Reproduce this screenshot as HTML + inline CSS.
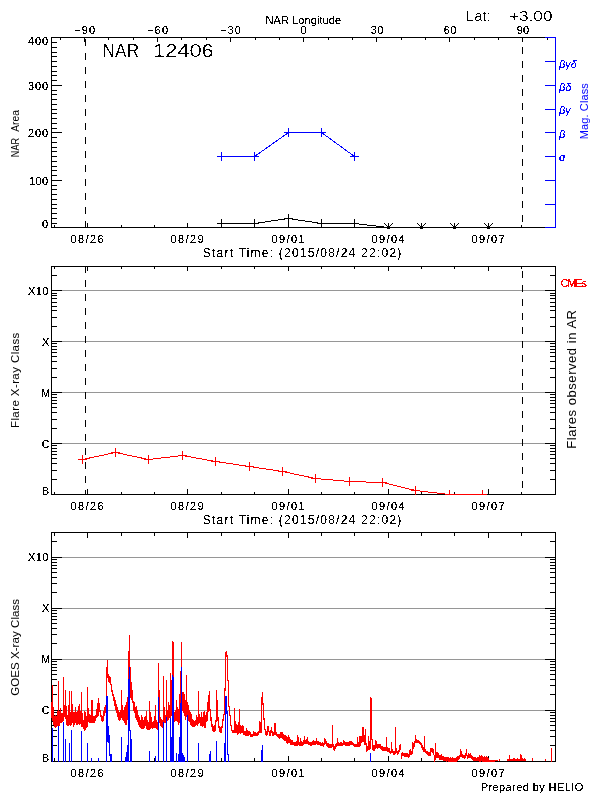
<!DOCTYPE html>
<html><head><meta charset="utf-8"><title>NAR 12406</title>
<style>html,body{margin:0;padding:0;background:#fff;width:600px;height:800px;overflow:hidden}
svg{display:block;will-change:transform} rect{shape-rendering:crispEdges} polyline,path{shape-rendering:crispEdges}
text{font-family:'Liberation Sans', 'DejaVu Sans', sans-serif;}</style></head>
<body><svg width="600" height="800" viewBox="0 0 600 800">
<defs><filter id="cr" x="-0.1" y="-0.1" width="1.2" height="1.2"><feComponentTransfer><feFuncA type="discrete" tableValues="0 0 1 1 1"/></feComponentTransfer></filter>
<filter id="cr2" x="-0.1" y="-0.1" width="1.2" height="1.2"><feComponentTransfer><feFuncA type="discrete" tableValues="0 0 0 0 0 0 1 1 1 1"/></feComponentTransfer></filter></defs>
<rect x="0" y="0" width="600" height="800" fill="#fff"/>
<rect x="51" y="37" width="505" height="1" fill="#000"/>
<rect x="51" y="227" width="505" height="1" fill="#000"/>
<rect x="51" y="37" width="1" height="191" fill="#000"/>
<rect x="555" y="37" width="1" height="191" fill="#0000ff"/>
<rect x="51" y="227" width="11" height="1" fill="#000"/>
<rect x="51" y="223" width="6" height="1" fill="#000"/>
<rect x="51" y="218" width="6" height="1" fill="#000"/>
<rect x="51" y="213" width="6" height="1" fill="#000"/>
<rect x="51" y="208" width="6" height="1" fill="#000"/>
<rect x="51" y="204" width="6" height="1" fill="#000"/>
<rect x="51" y="199" width="6" height="1" fill="#000"/>
<rect x="51" y="194" width="6" height="1" fill="#000"/>
<rect x="51" y="189" width="6" height="1" fill="#000"/>
<rect x="51" y="185" width="6" height="1" fill="#000"/>
<rect x="51" y="180" width="11" height="1" fill="#000"/>
<rect x="51" y="175" width="6" height="1" fill="#000"/>
<rect x="51" y="170" width="6" height="1" fill="#000"/>
<rect x="51" y="166" width="6" height="1" fill="#000"/>
<rect x="51" y="161" width="6" height="1" fill="#000"/>
<rect x="51" y="156" width="6" height="1" fill="#000"/>
<rect x="51" y="151" width="6" height="1" fill="#000"/>
<rect x="51" y="147" width="6" height="1" fill="#000"/>
<rect x="51" y="142" width="6" height="1" fill="#000"/>
<rect x="51" y="137" width="6" height="1" fill="#000"/>
<rect x="51" y="132" width="11" height="1" fill="#000"/>
<rect x="51" y="128" width="6" height="1" fill="#000"/>
<rect x="51" y="123" width="6" height="1" fill="#000"/>
<rect x="51" y="118" width="6" height="1" fill="#000"/>
<rect x="51" y="113" width="6" height="1" fill="#000"/>
<rect x="51" y="109" width="6" height="1" fill="#000"/>
<rect x="51" y="104" width="6" height="1" fill="#000"/>
<rect x="51" y="99" width="6" height="1" fill="#000"/>
<rect x="51" y="94" width="6" height="1" fill="#000"/>
<rect x="51" y="90" width="6" height="1" fill="#000"/>
<rect x="51" y="85" width="11" height="1" fill="#000"/>
<rect x="51" y="80" width="6" height="1" fill="#000"/>
<rect x="51" y="75" width="6" height="1" fill="#000"/>
<rect x="51" y="71" width="6" height="1" fill="#000"/>
<rect x="51" y="66" width="6" height="1" fill="#000"/>
<rect x="51" y="61" width="6" height="1" fill="#000"/>
<rect x="51" y="56" width="6" height="1" fill="#000"/>
<rect x="51" y="52" width="6" height="1" fill="#000"/>
<rect x="51" y="47" width="6" height="1" fill="#000"/>
<rect x="51" y="42" width="6" height="1" fill="#000"/>
<rect x="51" y="37" width="11" height="1" fill="#000"/>
<rect x="60" y="37" width="1" height="3" fill="#000"/>
<rect x="84" y="37" width="1" height="5" fill="#000"/>
<rect x="108" y="37" width="1" height="3" fill="#000"/>
<rect x="133" y="37" width="1" height="3" fill="#000"/>
<rect x="157" y="37" width="1" height="5" fill="#000"/>
<rect x="181" y="37" width="1" height="3" fill="#000"/>
<rect x="206" y="37" width="1" height="3" fill="#000"/>
<rect x="230" y="37" width="1" height="5" fill="#000"/>
<rect x="255" y="37" width="1" height="3" fill="#000"/>
<rect x="279" y="37" width="1" height="3" fill="#000"/>
<rect x="303" y="37" width="1" height="5" fill="#000"/>
<rect x="328" y="37" width="1" height="3" fill="#000"/>
<rect x="352" y="37" width="1" height="3" fill="#000"/>
<rect x="376" y="37" width="1" height="5" fill="#000"/>
<rect x="401" y="37" width="1" height="3" fill="#000"/>
<rect x="425" y="37" width="1" height="3" fill="#000"/>
<rect x="449" y="37" width="1" height="5" fill="#000"/>
<rect x="474" y="37" width="1" height="3" fill="#000"/>
<rect x="498" y="37" width="1" height="3" fill="#000"/>
<rect x="522" y="37" width="1" height="5" fill="#000"/>
<rect x="547" y="37" width="1" height="3" fill="#000"/>
<rect x="54" y="225" width="1" height="3" fill="#000"/>
<rect x="87" y="223" width="1" height="5" fill="#000"/>
<rect x="121" y="225" width="1" height="3" fill="#000"/>
<rect x="154" y="225" width="1" height="3" fill="#000"/>
<rect x="187" y="223" width="1" height="5" fill="#000"/>
<rect x="221" y="225" width="1" height="3" fill="#000"/>
<rect x="254" y="225" width="1" height="3" fill="#000"/>
<rect x="288" y="223" width="1" height="5" fill="#000"/>
<rect x="321" y="225" width="1" height="3" fill="#000"/>
<rect x="354" y="225" width="1" height="3" fill="#000"/>
<rect x="388" y="223" width="1" height="5" fill="#000"/>
<rect x="421" y="225" width="1" height="3" fill="#000"/>
<rect x="454" y="225" width="1" height="3" fill="#000"/>
<rect x="488" y="223" width="1" height="5" fill="#000"/>
<rect x="521" y="225" width="1" height="3" fill="#000"/>
<rect x="545" y="37" width="11" height="1" fill="#0000ff"/>
<rect x="545" y="61" width="11" height="1" fill="#0000ff"/>
<rect x="545" y="85" width="11" height="1" fill="#0000ff"/>
<rect x="545" y="109" width="11" height="1" fill="#0000ff"/>
<rect x="545" y="132" width="11" height="1" fill="#0000ff"/>
<rect x="545" y="156" width="11" height="1" fill="#0000ff"/>
<rect x="545" y="180" width="11" height="1" fill="#0000ff"/>
<rect x="545" y="204" width="11" height="1" fill="#0000ff"/>
<rect x="545" y="227" width="11" height="1" fill="#0000ff"/>
<rect x="555" y="37" width="1" height="191" fill="#0000ff"/>
<rect x="85" y="39" width="1" height="7" fill="#000"/>
<rect x="85" y="53" width="1" height="7" fill="#000"/>
<rect x="85" y="67" width="1" height="7" fill="#000"/>
<rect x="85" y="81" width="1" height="7" fill="#000"/>
<rect x="85" y="95" width="1" height="7" fill="#000"/>
<rect x="85" y="109" width="1" height="7" fill="#000"/>
<rect x="85" y="123" width="1" height="7" fill="#000"/>
<rect x="85" y="137" width="1" height="7" fill="#000"/>
<rect x="85" y="151" width="1" height="7" fill="#000"/>
<rect x="85" y="165" width="1" height="7" fill="#000"/>
<rect x="85" y="179" width="1" height="7" fill="#000"/>
<rect x="85" y="193" width="1" height="7" fill="#000"/>
<rect x="85" y="207" width="1" height="7" fill="#000"/>
<rect x="85" y="221" width="1" height="7" fill="#000"/>
<rect x="522" y="37" width="1" height="3" fill="#000"/>
<rect x="522" y="47" width="1" height="7" fill="#000"/>
<rect x="522" y="61" width="1" height="7" fill="#000"/>
<rect x="522" y="75" width="1" height="7" fill="#000"/>
<rect x="522" y="89" width="1" height="7" fill="#000"/>
<rect x="522" y="103" width="1" height="7" fill="#000"/>
<rect x="522" y="117" width="1" height="7" fill="#000"/>
<rect x="522" y="131" width="1" height="7" fill="#000"/>
<rect x="522" y="145" width="1" height="7" fill="#000"/>
<rect x="522" y="159" width="1" height="7" fill="#000"/>
<rect x="522" y="173" width="1" height="7" fill="#000"/>
<rect x="522" y="187" width="1" height="7" fill="#000"/>
<rect x="522" y="201" width="1" height="7" fill="#000"/>
<rect x="522" y="215" width="1" height="7" fill="#000"/>
<polyline points="221.5,223.5 254.5,223.5 288.5,218.5 321.5,223.5 354.5,223.5 388.5,227.5 488.5,227.5" fill="none" stroke="#000" stroke-width="1"/>
<rect x="217" y="223" width="9" height="1" fill="#000"/>
<rect x="221" y="219" width="1" height="9" fill="#000"/>
<rect x="250" y="223" width="9" height="1" fill="#000"/>
<rect x="254" y="219" width="1" height="9" fill="#000"/>
<rect x="284" y="218" width="9" height="1" fill="#000"/>
<rect x="288" y="214" width="1" height="9" fill="#000"/>
<rect x="317" y="223" width="9" height="1" fill="#000"/>
<rect x="321" y="219" width="1" height="9" fill="#000"/>
<rect x="350" y="223" width="9" height="1" fill="#000"/>
<rect x="354" y="219" width="1" height="9" fill="#000"/>
<path d="M384.5,223.5 L388.5,227.5 L392.5,223.5 M388.5,222.5 L388.5,227.5" stroke="#000" stroke-width="1" fill="none"/>
<rect x="387" y="226" width="3" height="3" fill="#000"/>
<path d="M417.5,223.5 L421.5,227.5 L425.5,223.5 M421.5,222.5 L421.5,227.5" stroke="#000" stroke-width="1" fill="none"/>
<rect x="420" y="226" width="3" height="3" fill="#000"/>
<path d="M450.5,223.5 L454.5,227.5 L458.5,223.5 M454.5,222.5 L454.5,227.5" stroke="#000" stroke-width="1" fill="none"/>
<rect x="453" y="226" width="3" height="3" fill="#000"/>
<path d="M484.5,223.5 L488.5,227.5 L492.5,223.5 M488.5,222.5 L488.5,227.5" stroke="#000" stroke-width="1" fill="none"/>
<rect x="487" y="226" width="3" height="3" fill="#000"/>
<polyline points="221.5,156.5 254.5,156.5 288.5,132.5 321.5,132.5 354.5,156.5" fill="none" stroke="#0000ff" stroke-width="1"/>
<rect x="217" y="156" width="9" height="1" fill="#0000ff"/>
<rect x="221" y="152" width="1" height="9" fill="#0000ff"/>
<rect x="250" y="156" width="9" height="1" fill="#0000ff"/>
<rect x="254" y="152" width="1" height="9" fill="#0000ff"/>
<rect x="284" y="132" width="9" height="1" fill="#0000ff"/>
<rect x="288" y="128" width="1" height="9" fill="#0000ff"/>
<rect x="317" y="132" width="9" height="1" fill="#0000ff"/>
<rect x="321" y="128" width="1" height="9" fill="#0000ff"/>
<rect x="350" y="156" width="9" height="1" fill="#0000ff"/>
<rect x="354" y="152" width="1" height="9" fill="#0000ff"/>
<rect x="52" y="290" width="503" height="1" fill="#969696"/>
<rect x="52" y="341" width="503" height="1" fill="#969696"/>
<rect x="52" y="392" width="503" height="1" fill="#969696"/>
<rect x="52" y="443" width="503" height="1" fill="#969696"/>
<rect x="51" y="266" width="505" height="1" fill="#000"/>
<rect x="51" y="494" width="505" height="1" fill="#000"/>
<rect x="51" y="266" width="1" height="229" fill="#000"/>
<rect x="555" y="266" width="1" height="229" fill="#000"/>
<rect x="51" y="494" width="11" height="1" fill="#000"/>
<rect x="545" y="494" width="11" height="1" fill="#000"/>
<rect x="51" y="479" width="6" height="1" fill="#000"/>
<rect x="550" y="479" width="6" height="1" fill="#000"/>
<rect x="51" y="470" width="6" height="1" fill="#000"/>
<rect x="550" y="470" width="6" height="1" fill="#000"/>
<rect x="51" y="463" width="6" height="1" fill="#000"/>
<rect x="550" y="463" width="6" height="1" fill="#000"/>
<rect x="51" y="458" width="6" height="1" fill="#000"/>
<rect x="550" y="458" width="6" height="1" fill="#000"/>
<rect x="51" y="454" width="6" height="1" fill="#000"/>
<rect x="550" y="454" width="6" height="1" fill="#000"/>
<rect x="51" y="451" width="6" height="1" fill="#000"/>
<rect x="550" y="451" width="6" height="1" fill="#000"/>
<rect x="51" y="448" width="6" height="1" fill="#000"/>
<rect x="550" y="448" width="6" height="1" fill="#000"/>
<rect x="51" y="445" width="6" height="1" fill="#000"/>
<rect x="550" y="445" width="6" height="1" fill="#000"/>
<rect x="51" y="443" width="11" height="1" fill="#000"/>
<rect x="545" y="443" width="11" height="1" fill="#000"/>
<rect x="51" y="428" width="6" height="1" fill="#000"/>
<rect x="550" y="428" width="6" height="1" fill="#000"/>
<rect x="51" y="419" width="6" height="1" fill="#000"/>
<rect x="550" y="419" width="6" height="1" fill="#000"/>
<rect x="51" y="412" width="6" height="1" fill="#000"/>
<rect x="550" y="412" width="6" height="1" fill="#000"/>
<rect x="51" y="407" width="6" height="1" fill="#000"/>
<rect x="550" y="407" width="6" height="1" fill="#000"/>
<rect x="51" y="403" width="6" height="1" fill="#000"/>
<rect x="550" y="403" width="6" height="1" fill="#000"/>
<rect x="51" y="400" width="6" height="1" fill="#000"/>
<rect x="550" y="400" width="6" height="1" fill="#000"/>
<rect x="51" y="397" width="6" height="1" fill="#000"/>
<rect x="550" y="397" width="6" height="1" fill="#000"/>
<rect x="51" y="394" width="6" height="1" fill="#000"/>
<rect x="550" y="394" width="6" height="1" fill="#000"/>
<rect x="51" y="392" width="11" height="1" fill="#000"/>
<rect x="545" y="392" width="11" height="1" fill="#000"/>
<rect x="51" y="377" width="6" height="1" fill="#000"/>
<rect x="550" y="377" width="6" height="1" fill="#000"/>
<rect x="51" y="368" width="6" height="1" fill="#000"/>
<rect x="550" y="368" width="6" height="1" fill="#000"/>
<rect x="51" y="361" width="6" height="1" fill="#000"/>
<rect x="550" y="361" width="6" height="1" fill="#000"/>
<rect x="51" y="356" width="6" height="1" fill="#000"/>
<rect x="550" y="356" width="6" height="1" fill="#000"/>
<rect x="51" y="352" width="6" height="1" fill="#000"/>
<rect x="550" y="352" width="6" height="1" fill="#000"/>
<rect x="51" y="349" width="6" height="1" fill="#000"/>
<rect x="550" y="349" width="6" height="1" fill="#000"/>
<rect x="51" y="346" width="6" height="1" fill="#000"/>
<rect x="550" y="346" width="6" height="1" fill="#000"/>
<rect x="51" y="343" width="6" height="1" fill="#000"/>
<rect x="550" y="343" width="6" height="1" fill="#000"/>
<rect x="51" y="341" width="11" height="1" fill="#000"/>
<rect x="545" y="341" width="11" height="1" fill="#000"/>
<rect x="51" y="326" width="6" height="1" fill="#000"/>
<rect x="550" y="326" width="6" height="1" fill="#000"/>
<rect x="51" y="317" width="6" height="1" fill="#000"/>
<rect x="550" y="317" width="6" height="1" fill="#000"/>
<rect x="51" y="310" width="6" height="1" fill="#000"/>
<rect x="550" y="310" width="6" height="1" fill="#000"/>
<rect x="51" y="306" width="6" height="1" fill="#000"/>
<rect x="550" y="306" width="6" height="1" fill="#000"/>
<rect x="51" y="302" width="6" height="1" fill="#000"/>
<rect x="550" y="302" width="6" height="1" fill="#000"/>
<rect x="51" y="298" width="6" height="1" fill="#000"/>
<rect x="550" y="298" width="6" height="1" fill="#000"/>
<rect x="51" y="295" width="6" height="1" fill="#000"/>
<rect x="550" y="295" width="6" height="1" fill="#000"/>
<rect x="51" y="293" width="6" height="1" fill="#000"/>
<rect x="550" y="293" width="6" height="1" fill="#000"/>
<rect x="51" y="290" width="11" height="1" fill="#000"/>
<rect x="545" y="290" width="11" height="1" fill="#000"/>
<rect x="51" y="275" width="6" height="1" fill="#000"/>
<rect x="550" y="275" width="6" height="1" fill="#000"/>
<rect x="51" y="266" width="6" height="1" fill="#000"/>
<rect x="550" y="266" width="6" height="1" fill="#000"/>
<rect x="54" y="492" width="1" height="3" fill="#000"/>
<rect x="54" y="266" width="1" height="3" fill="#000"/>
<rect x="87" y="489" width="1" height="6" fill="#000"/>
<rect x="87" y="266" width="1" height="5" fill="#000"/>
<rect x="121" y="492" width="1" height="3" fill="#000"/>
<rect x="121" y="266" width="1" height="3" fill="#000"/>
<rect x="154" y="492" width="1" height="3" fill="#000"/>
<rect x="154" y="266" width="1" height="3" fill="#000"/>
<rect x="187" y="489" width="1" height="6" fill="#000"/>
<rect x="187" y="266" width="1" height="5" fill="#000"/>
<rect x="221" y="492" width="1" height="3" fill="#000"/>
<rect x="221" y="266" width="1" height="3" fill="#000"/>
<rect x="254" y="492" width="1" height="3" fill="#000"/>
<rect x="254" y="266" width="1" height="3" fill="#000"/>
<rect x="288" y="489" width="1" height="6" fill="#000"/>
<rect x="288" y="266" width="1" height="5" fill="#000"/>
<rect x="321" y="492" width="1" height="3" fill="#000"/>
<rect x="321" y="266" width="1" height="3" fill="#000"/>
<rect x="354" y="492" width="1" height="3" fill="#000"/>
<rect x="354" y="266" width="1" height="3" fill="#000"/>
<rect x="388" y="489" width="1" height="6" fill="#000"/>
<rect x="388" y="266" width="1" height="5" fill="#000"/>
<rect x="421" y="492" width="1" height="3" fill="#000"/>
<rect x="421" y="266" width="1" height="3" fill="#000"/>
<rect x="454" y="492" width="1" height="3" fill="#000"/>
<rect x="454" y="266" width="1" height="3" fill="#000"/>
<rect x="488" y="489" width="1" height="6" fill="#000"/>
<rect x="488" y="266" width="1" height="5" fill="#000"/>
<rect x="521" y="492" width="1" height="3" fill="#000"/>
<rect x="521" y="266" width="1" height="3" fill="#000"/>
<rect x="85" y="266" width="1" height="7" fill="#000"/>
<rect x="85" y="280" width="1" height="7" fill="#000"/>
<rect x="85" y="294" width="1" height="7" fill="#000"/>
<rect x="85" y="308" width="1" height="7" fill="#000"/>
<rect x="85" y="322" width="1" height="7" fill="#000"/>
<rect x="85" y="336" width="1" height="7" fill="#000"/>
<rect x="85" y="350" width="1" height="7" fill="#000"/>
<rect x="85" y="364" width="1" height="7" fill="#000"/>
<rect x="85" y="378" width="1" height="7" fill="#000"/>
<rect x="85" y="392" width="1" height="7" fill="#000"/>
<rect x="85" y="406" width="1" height="7" fill="#000"/>
<rect x="85" y="420" width="1" height="7" fill="#000"/>
<rect x="85" y="434" width="1" height="7" fill="#000"/>
<rect x="85" y="448" width="1" height="7" fill="#000"/>
<rect x="85" y="462" width="1" height="7" fill="#000"/>
<rect x="85" y="476" width="1" height="7" fill="#000"/>
<rect x="85" y="490" width="1" height="5" fill="#000"/>
<rect x="522" y="271" width="1" height="7" fill="#000"/>
<rect x="522" y="285" width="1" height="7" fill="#000"/>
<rect x="522" y="299" width="1" height="7" fill="#000"/>
<rect x="522" y="313" width="1" height="7" fill="#000"/>
<rect x="522" y="327" width="1" height="7" fill="#000"/>
<rect x="522" y="341" width="1" height="7" fill="#000"/>
<rect x="522" y="355" width="1" height="7" fill="#000"/>
<rect x="522" y="369" width="1" height="7" fill="#000"/>
<rect x="522" y="383" width="1" height="7" fill="#000"/>
<rect x="522" y="397" width="1" height="7" fill="#000"/>
<rect x="522" y="411" width="1" height="7" fill="#000"/>
<rect x="522" y="425" width="1" height="7" fill="#000"/>
<rect x="522" y="439" width="1" height="7" fill="#000"/>
<rect x="522" y="453" width="1" height="7" fill="#000"/>
<rect x="522" y="467" width="1" height="7" fill="#000"/>
<rect x="522" y="481" width="1" height="7" fill="#000"/>
<polyline points="82.5,459.5 115.5,452.5 148.5,459.5 182.5,455.5 215.5,461.5 249.5,466.5 282.5,471.5 315.5,478.5 349.5,481.5 382.5,482.5 415.5,490.5 449.5,494.5 482.5,494.5" fill="none" stroke="#ff0000" stroke-width="1"/>
<rect x="78" y="459" width="9" height="1" fill="#ff0000"/>
<rect x="82" y="455" width="1" height="9" fill="#ff0000"/>
<rect x="111" y="452" width="9" height="1" fill="#ff0000"/>
<rect x="115" y="448" width="1" height="9" fill="#ff0000"/>
<rect x="144" y="459" width="9" height="1" fill="#ff0000"/>
<rect x="148" y="455" width="1" height="9" fill="#ff0000"/>
<rect x="178" y="455" width="9" height="1" fill="#ff0000"/>
<rect x="182" y="451" width="1" height="9" fill="#ff0000"/>
<rect x="211" y="461" width="9" height="1" fill="#ff0000"/>
<rect x="215" y="457" width="1" height="9" fill="#ff0000"/>
<rect x="245" y="466" width="9" height="1" fill="#ff0000"/>
<rect x="249" y="462" width="1" height="9" fill="#ff0000"/>
<rect x="278" y="471" width="9" height="1" fill="#ff0000"/>
<rect x="282" y="467" width="1" height="9" fill="#ff0000"/>
<rect x="311" y="478" width="9" height="1" fill="#ff0000"/>
<rect x="315" y="474" width="1" height="9" fill="#ff0000"/>
<rect x="345" y="481" width="9" height="1" fill="#ff0000"/>
<rect x="349" y="477" width="1" height="9" fill="#ff0000"/>
<rect x="378" y="482" width="9" height="1" fill="#ff0000"/>
<rect x="382" y="478" width="1" height="9" fill="#ff0000"/>
<rect x="411" y="490" width="9" height="1" fill="#ff0000"/>
<rect x="415" y="486" width="1" height="9" fill="#ff0000"/>
<rect x="445" y="494" width="9" height="1" fill="#ff0000"/>
<rect x="449" y="490" width="1" height="5" fill="#ff0000"/>
<rect x="478" y="494" width="9" height="1" fill="#ff0000"/>
<rect x="482" y="490" width="1" height="5" fill="#ff0000"/>
<rect x="52" y="557" width="503" height="1" fill="#969696"/>
<rect x="52" y="608" width="503" height="1" fill="#969696"/>
<rect x="52" y="659" width="503" height="1" fill="#969696"/>
<rect x="52" y="710" width="503" height="1" fill="#969696"/>
<rect x="51" y="532" width="505" height="1" fill="#000"/>
<rect x="51" y="761" width="505" height="1" fill="#000"/>
<rect x="51" y="532" width="1" height="230" fill="#000"/>
<rect x="555" y="532" width="1" height="230" fill="#000"/>
<rect x="51" y="761" width="11" height="1" fill="#000"/>
<rect x="545" y="761" width="11" height="1" fill="#000"/>
<rect x="51" y="745" width="6" height="1" fill="#000"/>
<rect x="550" y="745" width="6" height="1" fill="#000"/>
<rect x="51" y="736" width="6" height="1" fill="#000"/>
<rect x="550" y="736" width="6" height="1" fill="#000"/>
<rect x="51" y="730" width="6" height="1" fill="#000"/>
<rect x="550" y="730" width="6" height="1" fill="#000"/>
<rect x="51" y="725" width="6" height="1" fill="#000"/>
<rect x="550" y="725" width="6" height="1" fill="#000"/>
<rect x="51" y="721" width="6" height="1" fill="#000"/>
<rect x="550" y="721" width="6" height="1" fill="#000"/>
<rect x="51" y="718" width="6" height="1" fill="#000"/>
<rect x="550" y="718" width="6" height="1" fill="#000"/>
<rect x="51" y="715" width="6" height="1" fill="#000"/>
<rect x="550" y="715" width="6" height="1" fill="#000"/>
<rect x="51" y="712" width="6" height="1" fill="#000"/>
<rect x="550" y="712" width="6" height="1" fill="#000"/>
<rect x="51" y="710" width="11" height="1" fill="#000"/>
<rect x="545" y="710" width="11" height="1" fill="#000"/>
<rect x="51" y="694" width="6" height="1" fill="#000"/>
<rect x="550" y="694" width="6" height="1" fill="#000"/>
<rect x="51" y="685" width="6" height="1" fill="#000"/>
<rect x="550" y="685" width="6" height="1" fill="#000"/>
<rect x="51" y="679" width="6" height="1" fill="#000"/>
<rect x="550" y="679" width="6" height="1" fill="#000"/>
<rect x="51" y="674" width="6" height="1" fill="#000"/>
<rect x="550" y="674" width="6" height="1" fill="#000"/>
<rect x="51" y="670" width="6" height="1" fill="#000"/>
<rect x="550" y="670" width="6" height="1" fill="#000"/>
<rect x="51" y="667" width="6" height="1" fill="#000"/>
<rect x="550" y="667" width="6" height="1" fill="#000"/>
<rect x="51" y="664" width="6" height="1" fill="#000"/>
<rect x="550" y="664" width="6" height="1" fill="#000"/>
<rect x="51" y="661" width="6" height="1" fill="#000"/>
<rect x="550" y="661" width="6" height="1" fill="#000"/>
<rect x="51" y="659" width="11" height="1" fill="#000"/>
<rect x="545" y="659" width="11" height="1" fill="#000"/>
<rect x="51" y="643" width="6" height="1" fill="#000"/>
<rect x="550" y="643" width="6" height="1" fill="#000"/>
<rect x="51" y="634" width="6" height="1" fill="#000"/>
<rect x="550" y="634" width="6" height="1" fill="#000"/>
<rect x="51" y="628" width="6" height="1" fill="#000"/>
<rect x="550" y="628" width="6" height="1" fill="#000"/>
<rect x="51" y="623" width="6" height="1" fill="#000"/>
<rect x="550" y="623" width="6" height="1" fill="#000"/>
<rect x="51" y="619" width="6" height="1" fill="#000"/>
<rect x="550" y="619" width="6" height="1" fill="#000"/>
<rect x="51" y="616" width="6" height="1" fill="#000"/>
<rect x="550" y="616" width="6" height="1" fill="#000"/>
<rect x="51" y="613" width="6" height="1" fill="#000"/>
<rect x="550" y="613" width="6" height="1" fill="#000"/>
<rect x="51" y="610" width="6" height="1" fill="#000"/>
<rect x="550" y="610" width="6" height="1" fill="#000"/>
<rect x="51" y="608" width="11" height="1" fill="#000"/>
<rect x="545" y="608" width="11" height="1" fill="#000"/>
<rect x="51" y="592" width="6" height="1" fill="#000"/>
<rect x="550" y="592" width="6" height="1" fill="#000"/>
<rect x="51" y="583" width="6" height="1" fill="#000"/>
<rect x="550" y="583" width="6" height="1" fill="#000"/>
<rect x="51" y="577" width="6" height="1" fill="#000"/>
<rect x="550" y="577" width="6" height="1" fill="#000"/>
<rect x="51" y="572" width="6" height="1" fill="#000"/>
<rect x="550" y="572" width="6" height="1" fill="#000"/>
<rect x="51" y="568" width="6" height="1" fill="#000"/>
<rect x="550" y="568" width="6" height="1" fill="#000"/>
<rect x="51" y="565" width="6" height="1" fill="#000"/>
<rect x="550" y="565" width="6" height="1" fill="#000"/>
<rect x="51" y="562" width="6" height="1" fill="#000"/>
<rect x="550" y="562" width="6" height="1" fill="#000"/>
<rect x="51" y="559" width="6" height="1" fill="#000"/>
<rect x="550" y="559" width="6" height="1" fill="#000"/>
<rect x="51" y="557" width="11" height="1" fill="#000"/>
<rect x="545" y="557" width="11" height="1" fill="#000"/>
<rect x="51" y="541" width="6" height="1" fill="#000"/>
<rect x="550" y="541" width="6" height="1" fill="#000"/>
<rect x="51" y="532" width="6" height="1" fill="#000"/>
<rect x="550" y="532" width="6" height="1" fill="#000"/>
<rect x="54" y="758" width="1" height="4" fill="#000"/>
<rect x="54" y="532" width="1" height="4" fill="#000"/>
<rect x="87" y="756" width="1" height="6" fill="#000"/>
<rect x="87" y="532" width="1" height="6" fill="#000"/>
<rect x="121" y="758" width="1" height="4" fill="#000"/>
<rect x="121" y="532" width="1" height="4" fill="#000"/>
<rect x="154" y="758" width="1" height="4" fill="#000"/>
<rect x="154" y="532" width="1" height="4" fill="#000"/>
<rect x="187" y="756" width="1" height="6" fill="#000"/>
<rect x="187" y="532" width="1" height="6" fill="#000"/>
<rect x="221" y="758" width="1" height="4" fill="#000"/>
<rect x="221" y="532" width="1" height="4" fill="#000"/>
<rect x="254" y="758" width="1" height="4" fill="#000"/>
<rect x="254" y="532" width="1" height="4" fill="#000"/>
<rect x="288" y="756" width="1" height="6" fill="#000"/>
<rect x="288" y="532" width="1" height="6" fill="#000"/>
<rect x="321" y="758" width="1" height="4" fill="#000"/>
<rect x="321" y="532" width="1" height="4" fill="#000"/>
<rect x="354" y="758" width="1" height="4" fill="#000"/>
<rect x="354" y="532" width="1" height="4" fill="#000"/>
<rect x="388" y="756" width="1" height="6" fill="#000"/>
<rect x="388" y="532" width="1" height="6" fill="#000"/>
<rect x="421" y="758" width="1" height="4" fill="#000"/>
<rect x="421" y="532" width="1" height="4" fill="#000"/>
<rect x="454" y="758" width="1" height="4" fill="#000"/>
<rect x="454" y="532" width="1" height="4" fill="#000"/>
<rect x="488" y="756" width="1" height="6" fill="#000"/>
<rect x="488" y="532" width="1" height="6" fill="#000"/>
<rect x="521" y="758" width="1" height="4" fill="#000"/>
<rect x="521" y="532" width="1" height="4" fill="#000"/>
<text x="265.6" y="24" font-size="11" fill="#000" filter="url(#cr)" textLength="75.4" lengthAdjust="spacing" >NAR Longitude</text>
<text x="74.1" y="34" font-size="11" fill="#000" filter="url(#cr)" textLength="21" lengthAdjust="spacing" >−90</text>
<text x="147.0" y="34" font-size="11" fill="#000" filter="url(#cr)" textLength="21" lengthAdjust="spacing" >−60</text>
<text x="219.9" y="34" font-size="11" fill="#000" filter="url(#cr)" textLength="21" lengthAdjust="spacing" >−30</text>
<text x="300.6" y="34" font-size="11" fill="#000" filter="url(#cr)" textLength="5.4" lengthAdjust="spacing" >0</text>
<text x="370.85" y="34" font-size="11" fill="#000" filter="url(#cr)" textLength="12.5" lengthAdjust="spacing" >30</text>
<text x="443.75" y="34" font-size="11" fill="#000" filter="url(#cr)" textLength="12.5" lengthAdjust="spacing" >60</text>
<text x="516.65" y="34" font-size="11" fill="#000" filter="url(#cr)" textLength="12.5" lengthAdjust="spacing" >90</text>
<text x="465.8" y="21" font-size="15" fill="#000" filter="url(#cr2)" textLength="25" lengthAdjust="spacing" >Lat:</text>
<text x="509" y="21" font-size="15" fill="#000" filter="url(#cr2)" textLength="43.5" lengthAdjust="spacingAndGlyphs" >+3.00</text>
<text x="102.6" y="57" font-size="18" fill="#000" filter="url(#cr2)" textLength="36.6" lengthAdjust="spacingAndGlyphs" >NAR</text>
<text x="153" y="57" font-size="18" fill="#000" filter="url(#cr2)" textLength="60.7" lengthAdjust="spacingAndGlyphs" >12406</text>
<text x="28" y="45" font-size="11" fill="#000" filter="url(#cr)" textLength="20" lengthAdjust="spacing" >400</text>
<text x="28" y="90" font-size="11" fill="#000" filter="url(#cr)" textLength="20" lengthAdjust="spacing" >300</text>
<text x="28" y="137" font-size="11" fill="#000" filter="url(#cr)" textLength="20" lengthAdjust="spacing" >200</text>
<text x="29" y="185" font-size="11" fill="#000" filter="url(#cr)" textLength="19" lengthAdjust="spacing" >100</text>
<text x="42" y="228" font-size="11" fill="#000" filter="url(#cr)" textLength="6" lengthAdjust="spacing" >0</text>
<text x="19.0" y="157.2" font-size="10.5" fill="#000"  textLength="19.3" lengthAdjust="spacingAndGlyphs" transform="rotate(-90 19.0 157.2)" >NAR</text>
<text x="19.0" y="131.8" font-size="10.5" fill="#000"  textLength="21.7" lengthAdjust="spacingAndGlyphs" transform="rotate(-90 19.0 131.8)" >Area</text>
<text x="70.5" y="243" font-size="11" fill="#000" filter="url(#cr)" textLength="33" lengthAdjust="spacing" >08/26</text>
<text x="170.5" y="243" font-size="11" fill="#000" filter="url(#cr)" textLength="33" lengthAdjust="spacing" >08/29</text>
<text x="271.5" y="243" font-size="11" fill="#000" filter="url(#cr)" textLength="33" lengthAdjust="spacing" >09/01</text>
<text x="371.5" y="243" font-size="11" fill="#000" filter="url(#cr)" textLength="33" lengthAdjust="spacing" >09/04</text>
<text x="471.5" y="243" font-size="11" fill="#000" filter="url(#cr)" textLength="33" lengthAdjust="spacing" >09/07</text>
<text x="202.7" y="256.6" font-size="12" fill="#000" filter="url(#cr)" textLength="198.6" lengthAdjust="spacing" >Start Time: (2015/08/24 22:02)</text>
<text x="559" y="67.5" font-size="11" fill="#0000ff" filter="url(#cr)" font-style="italic">βγδ</text>
<text x="559" y="90.5" font-size="11" fill="#0000ff" filter="url(#cr)" font-style="italic">βδ</text>
<text x="559" y="114" font-size="11" fill="#0000ff" filter="url(#cr)" font-style="italic">βγ</text>
<text x="559" y="137.5" font-size="11" fill="#0000ff" filter="url(#cr)" font-style="italic">β</text>
<text x="559" y="160.5" font-size="11" fill="#0000ff" filter="url(#cr)" font-style="italic">α</text>
<text x="588" y="139.2" font-size="11" fill="#0000ff"  textLength="56" lengthAdjust="spacing" transform="rotate(-90 588 139.2)" >Mag. Class</text>
<text x="28" y="295" font-size="11" fill="#000" filter="url(#cr)" textLength="20.299999999999997" lengthAdjust="spacing" >X10</text>
<text x="42" y="346" font-size="11" fill="#000" filter="url(#cr)" textLength="6.299999999999997" lengthAdjust="spacing" >X</text>
<text x="41" y="397" font-size="11" fill="#000" filter="url(#cr)" textLength="7.299999999999997" lengthAdjust="spacing" >M</text>
<text x="41.8" y="448" font-size="11" fill="#000" filter="url(#cr)" textLength="6.5" lengthAdjust="spacing" >C</text>
<text x="41.8" y="495" font-size="11" fill="#000" filter="url(#cr)" textLength="6.5" lengthAdjust="spacing" >B</text>
<text x="19.0" y="428" font-size="11.5" fill="#000"  textLength="95.3" lengthAdjust="spacing" transform="rotate(-90 19.0 428)" >Flare X-ray Class</text>
<text x="560.5" y="287" font-size="11" fill="#ff0000" filter="url(#cr)" textLength="26.5" lengthAdjust="spacing" >CMEs</text>
<text x="576.3" y="448.75" font-size="13" fill="#000"  textLength="138.75" lengthAdjust="spacing" transform="rotate(-90 576.3 448.75)" >Flares observed in AR</text>
<text x="70.5" y="510" font-size="11" fill="#000" filter="url(#cr)" textLength="33" lengthAdjust="spacing" >08/26</text>
<text x="170.5" y="510" font-size="11" fill="#000" filter="url(#cr)" textLength="33" lengthAdjust="spacing" >08/29</text>
<text x="271.5" y="510" font-size="11" fill="#000" filter="url(#cr)" textLength="33" lengthAdjust="spacing" >09/01</text>
<text x="371.5" y="510" font-size="11" fill="#000" filter="url(#cr)" textLength="33" lengthAdjust="spacing" >09/04</text>
<text x="471.5" y="510" font-size="11" fill="#000" filter="url(#cr)" textLength="33" lengthAdjust="spacing" >09/07</text>
<text x="202.7" y="523.6" font-size="12" fill="#000" filter="url(#cr)" textLength="198.6" lengthAdjust="spacing" >Start Time: (2015/08/24 22:02)</text>
<text x="28" y="561.2" font-size="11" fill="#000" filter="url(#cr)" textLength="20.299999999999997" lengthAdjust="spacing" >X10</text>
<text x="42" y="612" font-size="11" fill="#000" filter="url(#cr)" textLength="6.299999999999997" lengthAdjust="spacing" >X</text>
<text x="41" y="663" font-size="11" fill="#000" filter="url(#cr)" textLength="7.299999999999997" lengthAdjust="spacing" >M</text>
<text x="41.8" y="714" font-size="11" fill="#000" filter="url(#cr)" textLength="6.5" lengthAdjust="spacing" >C</text>
<text x="41.8" y="761.5" font-size="11" fill="#000" filter="url(#cr)" textLength="6.5" lengthAdjust="spacing" >B</text>
<text x="19.0" y="695.7" font-size="11.5" fill="#000"  textLength="96.7" lengthAdjust="spacing" transform="rotate(-90 19.0 695.7)" >GOES X-ray Class</text>
<text x="70.5" y="776.5" font-size="11" fill="#000" filter="url(#cr)" textLength="33" lengthAdjust="spacing" >08/26</text>
<text x="170.5" y="776.5" font-size="11" fill="#000" filter="url(#cr)" textLength="33" lengthAdjust="spacing" >08/29</text>
<text x="271.5" y="776.5" font-size="11" fill="#000" filter="url(#cr)" textLength="33" lengthAdjust="spacing" >09/01</text>
<text x="371.5" y="776.5" font-size="11" fill="#000" filter="url(#cr)" textLength="33" lengthAdjust="spacing" >09/04</text>
<text x="471.5" y="776.5" font-size="11" fill="#000" filter="url(#cr)" textLength="33" lengthAdjust="spacing" >09/07</text>
<text x="480.7" y="790.7" font-size="11" fill="#000" filter="url(#cr)" textLength="102.5" lengthAdjust="spacing" >Prepared by HELIO</text>
<rect x="51" y="702" width="1" height="16" fill="#ff0000"/>
<rect x="52" y="685" width="1" height="36" fill="#ff0000"/>
<rect x="53" y="707" width="1" height="18" fill="#ff0000"/>
<rect x="54" y="716" width="1" height="11" fill="#ff0000"/>
<rect x="55" y="715" width="1" height="13" fill="#ff0000"/>
<rect x="56" y="716" width="1" height="11" fill="#ff0000"/>
<rect x="57" y="711" width="1" height="15" fill="#ff0000"/>
<rect x="58" y="681" width="1" height="46" fill="#ff0000"/>
<rect x="59" y="711" width="1" height="15" fill="#ff0000"/>
<rect x="60" y="708" width="1" height="15" fill="#ff0000"/>
<rect x="61" y="713" width="1" height="10" fill="#ff0000"/>
<rect x="62" y="713" width="1" height="9" fill="#ff0000"/>
<rect x="63" y="677" width="1" height="44" fill="#ff0000"/>
<rect x="64" y="705" width="1" height="12" fill="#ff0000"/>
<rect x="65" y="690" width="1" height="29" fill="#ff0000"/>
<rect x="66" y="706" width="1" height="19" fill="#ff0000"/>
<rect x="67" y="715" width="1" height="11" fill="#ff0000"/>
<rect x="68" y="705" width="1" height="21" fill="#ff0000"/>
<rect x="69" y="691" width="1" height="34" fill="#ff0000"/>
<rect x="70" y="712" width="1" height="14" fill="#ff0000"/>
<rect x="71" y="691" width="1" height="34" fill="#ff0000"/>
<rect x="72" y="704" width="1" height="19" fill="#ff0000"/>
<rect x="73" y="712" width="1" height="15" fill="#ff0000"/>
<rect x="74" y="712" width="1" height="13" fill="#ff0000"/>
<rect x="75" y="707" width="1" height="16" fill="#ff0000"/>
<rect x="76" y="712" width="1" height="13" fill="#ff0000"/>
<rect x="77" y="711" width="1" height="14" fill="#ff0000"/>
<rect x="78" y="706" width="1" height="18" fill="#ff0000"/>
<rect x="79" y="704" width="1" height="21" fill="#ff0000"/>
<rect x="80" y="711" width="1" height="13" fill="#ff0000"/>
<rect x="81" y="692" width="1" height="35" fill="#ff0000"/>
<rect x="82" y="713" width="1" height="14" fill="#ff0000"/>
<rect x="83" y="720" width="1" height="9" fill="#ff0000"/>
<rect x="84" y="711" width="1" height="20" fill="#ff0000"/>
<rect x="85" y="712" width="1" height="18" fill="#ff0000"/>
<rect x="86" y="716" width="1" height="12" fill="#ff0000"/>
<rect x="87" y="687" width="1" height="40" fill="#ff0000"/>
<rect x="88" y="708" width="1" height="14" fill="#ff0000"/>
<rect x="89" y="714" width="1" height="9" fill="#ff0000"/>
<rect x="90" y="715" width="1" height="8" fill="#ff0000"/>
<rect x="91" y="700" width="1" height="23" fill="#ff0000"/>
<rect x="92" y="700" width="1" height="23" fill="#ff0000"/>
<rect x="93" y="716" width="1" height="7" fill="#ff0000"/>
<rect x="94" y="716" width="1" height="7" fill="#ff0000"/>
<rect x="95" y="715" width="1" height="6" fill="#ff0000"/>
<rect x="96" y="709" width="1" height="9" fill="#ff0000"/>
<rect x="97" y="703" width="1" height="14" fill="#ff0000"/>
<rect x="98" y="698" width="1" height="18" fill="#ff0000"/>
<rect x="99" y="703" width="1" height="9" fill="#ff0000"/>
<rect x="100" y="710" width="1" height="7" fill="#ff0000"/>
<rect x="101" y="715" width="1" height="6" fill="#ff0000"/>
<rect x="102" y="716" width="1" height="6" fill="#ff0000"/>
<rect x="103" y="711" width="1" height="10" fill="#ff0000"/>
<rect x="104" y="707" width="1" height="9" fill="#ff0000"/>
<rect x="105" y="705" width="1" height="8" fill="#ff0000"/>
<rect x="106" y="667" width="1" height="39" fill="#ff0000"/>
<rect x="107" y="660" width="1" height="18" fill="#ff0000"/>
<rect x="108" y="674" width="1" height="8" fill="#ff0000"/>
<rect x="109" y="676" width="1" height="7" fill="#ff0000"/>
<rect x="110" y="677" width="1" height="8" fill="#ff0000"/>
<rect x="111" y="684" width="1" height="8" fill="#ff0000"/>
<rect x="112" y="690" width="1" height="6" fill="#ff0000"/>
<rect x="113" y="694" width="1" height="7" fill="#ff0000"/>
<rect x="114" y="697" width="1" height="9" fill="#ff0000"/>
<rect x="115" y="700" width="1" height="10" fill="#ff0000"/>
<rect x="116" y="704" width="1" height="9" fill="#ff0000"/>
<rect x="117" y="707" width="1" height="10" fill="#ff0000"/>
<rect x="118" y="710" width="1" height="10" fill="#ff0000"/>
<rect x="119" y="712" width="1" height="9" fill="#ff0000"/>
<rect x="120" y="710" width="1" height="10" fill="#ff0000"/>
<rect x="121" y="690" width="1" height="28" fill="#ff0000"/>
<rect x="122" y="705" width="1" height="15" fill="#ff0000"/>
<rect x="123" y="710" width="1" height="11" fill="#ff0000"/>
<rect x="124" y="707" width="1" height="16" fill="#ff0000"/>
<rect x="125" y="705" width="1" height="20" fill="#ff0000"/>
<rect x="126" y="702" width="1" height="23" fill="#ff0000"/>
<rect x="127" y="697" width="1" height="23" fill="#ff0000"/>
<rect x="128" y="651" width="1" height="50" fill="#ff0000"/>
<rect x="129" y="635" width="1" height="33" fill="#ff0000"/>
<rect x="130" y="667" width="1" height="31" fill="#ff0000"/>
<rect x="131" y="682" width="1" height="18" fill="#ff0000"/>
<rect x="132" y="690" width="1" height="13" fill="#ff0000"/>
<rect x="133" y="701" width="1" height="10" fill="#ff0000"/>
<rect x="134" y="702" width="1" height="11" fill="#ff0000"/>
<rect x="135" y="707" width="1" height="11" fill="#ff0000"/>
<rect x="136" y="706" width="1" height="14" fill="#ff0000"/>
<rect x="137" y="710" width="1" height="12" fill="#ff0000"/>
<rect x="138" y="715" width="1" height="10" fill="#ff0000"/>
<rect x="139" y="717" width="1" height="10" fill="#ff0000"/>
<rect x="140" y="720" width="1" height="8" fill="#ff0000"/>
<rect x="141" y="715" width="1" height="14" fill="#ff0000"/>
<rect x="142" y="717" width="1" height="12" fill="#ff0000"/>
<rect x="143" y="720" width="1" height="9" fill="#ff0000"/>
<rect x="144" y="717" width="1" height="11" fill="#ff0000"/>
<rect x="145" y="716" width="1" height="10" fill="#ff0000"/>
<rect x="146" y="711" width="1" height="18" fill="#ff0000"/>
<rect x="147" y="720" width="1" height="10" fill="#ff0000"/>
<rect x="148" y="722" width="1" height="8" fill="#ff0000"/>
<rect x="149" y="701" width="1" height="29" fill="#ff0000"/>
<rect x="150" y="712" width="1" height="17" fill="#ff0000"/>
<rect x="151" y="717" width="1" height="11" fill="#ff0000"/>
<rect x="152" y="722" width="1" height="7" fill="#ff0000"/>
<rect x="153" y="721" width="1" height="7" fill="#ff0000"/>
<rect x="154" y="716" width="1" height="12" fill="#ff0000"/>
<rect x="155" y="705" width="1" height="23" fill="#ff0000"/>
<rect x="156" y="720" width="1" height="9" fill="#ff0000"/>
<rect x="157" y="722" width="1" height="8" fill="#ff0000"/>
<rect x="158" y="663" width="1" height="38" fill="#ff0000"/>
<rect x="159" y="690" width="1" height="33" fill="#ff0000"/>
<rect x="160" y="717" width="1" height="9" fill="#ff0000"/>
<rect x="161" y="719" width="1" height="8" fill="#ff0000"/>
<rect x="162" y="720" width="1" height="8" fill="#ff0000"/>
<rect x="163" y="676" width="1" height="47" fill="#ff0000"/>
<rect x="164" y="707" width="1" height="16" fill="#ff0000"/>
<rect x="165" y="715" width="1" height="8" fill="#ff0000"/>
<rect x="166" y="680" width="1" height="42" fill="#ff0000"/>
<rect x="167" y="710" width="1" height="11" fill="#ff0000"/>
<rect x="168" y="702" width="1" height="18" fill="#ff0000"/>
<rect x="169" y="705" width="1" height="13" fill="#ff0000"/>
<rect x="170" y="673" width="1" height="45" fill="#ff0000"/>
<rect x="171" y="680" width="1" height="36" fill="#ff0000"/>
<rect x="172" y="641" width="1" height="36" fill="#ff0000"/>
<rect x="173" y="642" width="1" height="36" fill="#ff0000"/>
<rect x="174" y="712" width="1" height="10" fill="#ff0000"/>
<rect x="175" y="710" width="1" height="11" fill="#ff0000"/>
<rect x="176" y="700" width="1" height="21" fill="#ff0000"/>
<rect x="177" y="707" width="1" height="15" fill="#ff0000"/>
<rect x="178" y="709" width="1" height="16" fill="#ff0000"/>
<rect x="179" y="694" width="1" height="29" fill="#ff0000"/>
<rect x="180" y="671" width="1" height="35" fill="#ff0000"/>
<rect x="181" y="642" width="1" height="27" fill="#ff0000"/>
<rect x="182" y="692" width="1" height="19" fill="#ff0000"/>
<rect x="183" y="692" width="1" height="21" fill="#ff0000"/>
<rect x="184" y="694" width="1" height="22" fill="#ff0000"/>
<rect x="185" y="700" width="1" height="20" fill="#ff0000"/>
<rect x="186" y="675" width="1" height="42" fill="#ff0000"/>
<rect x="187" y="702" width="1" height="18" fill="#ff0000"/>
<rect x="188" y="705" width="1" height="16" fill="#ff0000"/>
<rect x="189" y="710" width="1" height="12" fill="#ff0000"/>
<rect x="190" y="712" width="1" height="13" fill="#ff0000"/>
<rect x="191" y="714" width="1" height="12" fill="#ff0000"/>
<rect x="192" y="719" width="1" height="8" fill="#ff0000"/>
<rect x="193" y="720" width="1" height="7" fill="#ff0000"/>
<rect x="194" y="721" width="1" height="6" fill="#ff0000"/>
<rect x="195" y="720" width="1" height="6" fill="#ff0000"/>
<rect x="196" y="715" width="1" height="10" fill="#ff0000"/>
<rect x="197" y="717" width="1" height="9" fill="#ff0000"/>
<rect x="198" y="691" width="1" height="33" fill="#ff0000"/>
<rect x="199" y="714" width="1" height="9" fill="#ff0000"/>
<rect x="200" y="717" width="1" height="9" fill="#ff0000"/>
<rect x="201" y="712" width="1" height="14" fill="#ff0000"/>
<rect x="202" y="717" width="1" height="10" fill="#ff0000"/>
<rect x="203" y="712" width="1" height="14" fill="#ff0000"/>
<rect x="204" y="711" width="1" height="17" fill="#ff0000"/>
<rect x="205" y="715" width="1" height="13" fill="#ff0000"/>
<rect x="206" y="712" width="1" height="10" fill="#ff0000"/>
<rect x="207" y="702" width="1" height="19" fill="#ff0000"/>
<rect x="208" y="695" width="1" height="17" fill="#ff0000"/>
<rect x="209" y="691" width="1" height="20" fill="#ff0000"/>
<rect x="210" y="709" width="1" height="12" fill="#ff0000"/>
<rect x="211" y="717" width="1" height="10" fill="#ff0000"/>
<rect x="212" y="724" width="1" height="7" fill="#ff0000"/>
<rect x="213" y="726" width="1" height="6" fill="#ff0000"/>
<rect x="214" y="725" width="1" height="7" fill="#ff0000"/>
<rect x="215" y="720" width="1" height="11" fill="#ff0000"/>
<rect x="216" y="690" width="1" height="32" fill="#ff0000"/>
<rect x="217" y="700" width="1" height="21" fill="#ff0000"/>
<rect x="218" y="717" width="1" height="11" fill="#ff0000"/>
<rect x="219" y="726" width="1" height="6" fill="#ff0000"/>
<rect x="220" y="727" width="1" height="6" fill="#ff0000"/>
<rect x="221" y="726" width="1" height="7" fill="#ff0000"/>
<rect x="222" y="719" width="1" height="9" fill="#ff0000"/>
<rect x="223" y="714" width="1" height="7" fill="#ff0000"/>
<rect x="224" y="688" width="1" height="27" fill="#ff0000"/>
<rect x="225" y="652" width="1" height="39" fill="#ff0000"/>
<rect x="226" y="651" width="1" height="6" fill="#ff0000"/>
<rect x="227" y="655" width="1" height="26" fill="#ff0000"/>
<rect x="228" y="680" width="1" height="27" fill="#ff0000"/>
<rect x="229" y="706" width="1" height="10" fill="#ff0000"/>
<rect x="230" y="715" width="1" height="11" fill="#ff0000"/>
<rect x="231" y="725" width="1" height="6" fill="#ff0000"/>
<rect x="232" y="730" width="1" height="3" fill="#ff0000"/>
<rect x="233" y="730" width="1" height="3" fill="#ff0000"/>
<rect x="234" y="708" width="1" height="25" fill="#ff0000"/>
<rect x="235" y="721" width="1" height="12" fill="#ff0000"/>
<rect x="236" y="724" width="1" height="9" fill="#ff0000"/>
<rect x="237" y="725" width="1" height="10" fill="#ff0000"/>
<rect x="238" y="722" width="1" height="12" fill="#ff0000"/>
<rect x="239" y="709" width="1" height="24" fill="#ff0000"/>
<rect x="240" y="725" width="1" height="9" fill="#ff0000"/>
<rect x="241" y="726" width="1" height="7" fill="#ff0000"/>
<rect x="242" y="725" width="1" height="8" fill="#ff0000"/>
<rect x="243" y="726" width="1" height="9" fill="#ff0000"/>
<rect x="244" y="731" width="1" height="4" fill="#ff0000"/>
<rect x="245" y="731" width="1" height="5" fill="#ff0000"/>
<rect x="246" y="728" width="1" height="8" fill="#ff0000"/>
<rect x="247" y="730" width="1" height="6" fill="#ff0000"/>
<rect x="248" y="731" width="1" height="5" fill="#ff0000"/>
<rect x="249" y="731" width="1" height="4" fill="#ff0000"/>
<rect x="250" y="732" width="1" height="5" fill="#ff0000"/>
<rect x="251" y="734" width="1" height="3" fill="#ff0000"/>
<rect x="252" y="734" width="1" height="3" fill="#ff0000"/>
<rect x="253" y="731" width="1" height="5" fill="#ff0000"/>
<rect x="254" y="732" width="1" height="4" fill="#ff0000"/>
<rect x="255" y="732" width="1" height="4" fill="#ff0000"/>
<rect x="256" y="733" width="1" height="3" fill="#ff0000"/>
<rect x="257" y="732" width="1" height="4" fill="#ff0000"/>
<rect x="258" y="731" width="1" height="4" fill="#ff0000"/>
<rect x="259" y="721" width="1" height="12" fill="#ff0000"/>
<rect x="260" y="722" width="1" height="11" fill="#ff0000"/>
<rect x="261" y="697" width="1" height="36" fill="#ff0000"/>
<rect x="262" y="692" width="1" height="13" fill="#ff0000"/>
<rect x="263" y="703" width="1" height="17" fill="#ff0000"/>
<rect x="264" y="718" width="1" height="12" fill="#ff0000"/>
<rect x="265" y="729" width="1" height="6" fill="#ff0000"/>
<rect x="266" y="731" width="1" height="5" fill="#ff0000"/>
<rect x="267" y="726" width="1" height="9" fill="#ff0000"/>
<rect x="268" y="726" width="1" height="6" fill="#ff0000"/>
<rect x="269" y="731" width="1" height="5" fill="#ff0000"/>
<rect x="270" y="730" width="1" height="6" fill="#ff0000"/>
<rect x="271" y="727" width="1" height="6" fill="#ff0000"/>
<rect x="272" y="731" width="1" height="5" fill="#ff0000"/>
<rect x="273" y="732" width="1" height="4" fill="#ff0000"/>
<rect x="274" y="723" width="1" height="12" fill="#ff0000"/>
<rect x="275" y="723" width="1" height="12" fill="#ff0000"/>
<rect x="276" y="732" width="1" height="4" fill="#ff0000"/>
<rect x="277" y="734" width="1" height="3" fill="#ff0000"/>
<rect x="278" y="734" width="1" height="4" fill="#ff0000"/>
<rect x="279" y="734" width="1" height="5" fill="#ff0000"/>
<rect x="280" y="732" width="1" height="6" fill="#ff0000"/>
<rect x="281" y="732" width="1" height="6" fill="#ff0000"/>
<rect x="282" y="732" width="1" height="7" fill="#ff0000"/>
<rect x="283" y="734" width="1" height="6" fill="#ff0000"/>
<rect x="284" y="735" width="1" height="6" fill="#ff0000"/>
<rect x="285" y="735" width="1" height="6" fill="#ff0000"/>
<rect x="286" y="736" width="1" height="7" fill="#ff0000"/>
<rect x="287" y="737" width="1" height="7" fill="#ff0000"/>
<rect x="288" y="735" width="1" height="8" fill="#ff0000"/>
<rect x="289" y="737" width="1" height="6" fill="#ff0000"/>
<rect x="290" y="739" width="1" height="6" fill="#ff0000"/>
<rect x="291" y="740" width="1" height="5" fill="#ff0000"/>
<rect x="292" y="740" width="1" height="5" fill="#ff0000"/>
<rect x="293" y="742" width="1" height="3" fill="#ff0000"/>
<rect x="294" y="742" width="1" height="4" fill="#ff0000"/>
<rect x="295" y="742" width="1" height="4" fill="#ff0000"/>
<rect x="296" y="741" width="1" height="5" fill="#ff0000"/>
<rect x="297" y="735" width="1" height="11" fill="#ff0000"/>
<rect x="298" y="737" width="1" height="8" fill="#ff0000"/>
<rect x="299" y="742" width="1" height="4" fill="#ff0000"/>
<rect x="300" y="738" width="1" height="8" fill="#ff0000"/>
<rect x="301" y="741" width="1" height="5" fill="#ff0000"/>
<rect x="302" y="742" width="1" height="4" fill="#ff0000"/>
<rect x="303" y="740" width="1" height="5" fill="#ff0000"/>
<rect x="304" y="736" width="1" height="8" fill="#ff0000"/>
<rect x="305" y="740" width="1" height="4" fill="#ff0000"/>
<rect x="306" y="739" width="1" height="5" fill="#ff0000"/>
<rect x="307" y="737" width="1" height="7" fill="#ff0000"/>
<rect x="308" y="741" width="1" height="4" fill="#ff0000"/>
<rect x="309" y="742" width="1" height="3" fill="#ff0000"/>
<rect x="310" y="742" width="1" height="4" fill="#ff0000"/>
<rect x="311" y="742" width="1" height="4" fill="#ff0000"/>
<rect x="312" y="741" width="1" height="4" fill="#ff0000"/>
<rect x="313" y="740" width="1" height="5" fill="#ff0000"/>
<rect x="314" y="741" width="1" height="4" fill="#ff0000"/>
<rect x="315" y="741" width="1" height="4" fill="#ff0000"/>
<rect x="316" y="738" width="1" height="6" fill="#ff0000"/>
<rect x="317" y="741" width="1" height="4" fill="#ff0000"/>
<rect x="318" y="741" width="1" height="4" fill="#ff0000"/>
<rect x="319" y="742" width="1" height="3" fill="#ff0000"/>
<rect x="320" y="742" width="1" height="4" fill="#ff0000"/>
<rect x="321" y="743" width="1" height="3" fill="#ff0000"/>
<rect x="322" y="742" width="1" height="4" fill="#ff0000"/>
<rect x="323" y="743" width="1" height="4" fill="#ff0000"/>
<rect x="324" y="738" width="1" height="7" fill="#ff0000"/>
<rect x="325" y="739" width="1" height="5" fill="#ff0000"/>
<rect x="326" y="741" width="1" height="5" fill="#ff0000"/>
<rect x="327" y="743" width="1" height="4" fill="#ff0000"/>
<rect x="328" y="743" width="1" height="5" fill="#ff0000"/>
<rect x="329" y="744" width="1" height="4" fill="#ff0000"/>
<rect x="330" y="744" width="1" height="4" fill="#ff0000"/>
<rect x="331" y="744" width="1" height="4" fill="#ff0000"/>
<rect x="332" y="725" width="1" height="22" fill="#ff0000"/>
<rect x="333" y="744" width="1" height="6" fill="#ff0000"/>
<rect x="334" y="746" width="1" height="5" fill="#ff0000"/>
<rect x="335" y="744" width="1" height="5" fill="#ff0000"/>
<rect x="336" y="743" width="1" height="4" fill="#ff0000"/>
<rect x="337" y="738" width="1" height="8" fill="#ff0000"/>
<rect x="338" y="742" width="1" height="4" fill="#ff0000"/>
<rect x="339" y="743" width="1" height="3" fill="#ff0000"/>
<rect x="340" y="742" width="1" height="4" fill="#ff0000"/>
<rect x="341" y="742" width="1" height="4" fill="#ff0000"/>
<rect x="342" y="743" width="1" height="3" fill="#ff0000"/>
<rect x="343" y="740" width="1" height="5" fill="#ff0000"/>
<rect x="344" y="741" width="1" height="4" fill="#ff0000"/>
<rect x="345" y="742" width="1" height="4" fill="#ff0000"/>
<rect x="346" y="742" width="1" height="4" fill="#ff0000"/>
<rect x="347" y="742" width="1" height="4" fill="#ff0000"/>
<rect x="348" y="742" width="1" height="4" fill="#ff0000"/>
<rect x="349" y="741" width="1" height="5" fill="#ff0000"/>
<rect x="350" y="741" width="1" height="4" fill="#ff0000"/>
<rect x="351" y="741" width="1" height="4" fill="#ff0000"/>
<rect x="352" y="742" width="1" height="3" fill="#ff0000"/>
<rect x="353" y="743" width="1" height="3" fill="#ff0000"/>
<rect x="354" y="744" width="1" height="3" fill="#ff0000"/>
<rect x="355" y="744" width="1" height="3" fill="#ff0000"/>
<rect x="356" y="744" width="1" height="3" fill="#ff0000"/>
<rect x="357" y="737" width="1" height="10" fill="#ff0000"/>
<rect x="358" y="742" width="1" height="5" fill="#ff0000"/>
<rect x="359" y="736" width="1" height="11" fill="#ff0000"/>
<rect x="360" y="736" width="1" height="10" fill="#ff0000"/>
<rect x="361" y="736" width="1" height="7" fill="#ff0000"/>
<rect x="362" y="727" width="1" height="15" fill="#ff0000"/>
<rect x="363" y="727" width="1" height="15" fill="#ff0000"/>
<rect x="364" y="735" width="1" height="10" fill="#ff0000"/>
<rect x="365" y="729" width="1" height="16" fill="#ff0000"/>
<rect x="366" y="743" width="1" height="9" fill="#ff0000"/>
<rect x="367" y="746" width="1" height="5" fill="#ff0000"/>
<rect x="368" y="736" width="1" height="14" fill="#ff0000"/>
<rect x="369" y="741" width="1" height="9" fill="#ff0000"/>
<rect x="370" y="697" width="1" height="52" fill="#ff0000"/>
<rect x="371" y="698" width="1" height="42" fill="#ff0000"/>
<rect x="372" y="739" width="1" height="11" fill="#ff0000"/>
<rect x="373" y="745" width="1" height="6" fill="#ff0000"/>
<rect x="374" y="745" width="1" height="6" fill="#ff0000"/>
<rect x="375" y="740" width="1" height="9" fill="#ff0000"/>
<rect x="376" y="741" width="1" height="7" fill="#ff0000"/>
<rect x="377" y="744" width="1" height="5" fill="#ff0000"/>
<rect x="378" y="744" width="1" height="4" fill="#ff0000"/>
<rect x="379" y="744" width="1" height="4" fill="#ff0000"/>
<rect x="380" y="744" width="1" height="5" fill="#ff0000"/>
<rect x="381" y="746" width="1" height="4" fill="#ff0000"/>
<rect x="382" y="746" width="1" height="5" fill="#ff0000"/>
<rect x="383" y="747" width="1" height="4" fill="#ff0000"/>
<rect x="384" y="747" width="1" height="4" fill="#ff0000"/>
<rect x="385" y="747" width="1" height="4" fill="#ff0000"/>
<rect x="386" y="737" width="1" height="14" fill="#ff0000"/>
<rect x="387" y="747" width="1" height="5" fill="#ff0000"/>
<rect x="388" y="748" width="1" height="4" fill="#ff0000"/>
<rect x="389" y="748" width="1" height="5" fill="#ff0000"/>
<rect x="390" y="751" width="1" height="3" fill="#ff0000"/>
<rect x="391" y="742" width="1" height="11" fill="#ff0000"/>
<rect x="392" y="749" width="1" height="4" fill="#ff0000"/>
<rect x="393" y="751" width="1" height="4" fill="#ff0000"/>
<rect x="394" y="751" width="1" height="4" fill="#ff0000"/>
<rect x="395" y="727" width="1" height="27" fill="#ff0000"/>
<rect x="396" y="748" width="1" height="5" fill="#ff0000"/>
<rect x="397" y="751" width="1" height="4" fill="#ff0000"/>
<rect x="398" y="750" width="1" height="4" fill="#ff0000"/>
<rect x="399" y="745" width="1" height="7" fill="#ff0000"/>
<rect x="400" y="744" width="1" height="6" fill="#ff0000"/>
<rect x="401" y="753" width="1" height="6" fill="#ff0000"/>
<rect x="402" y="752" width="1" height="4" fill="#ff0000"/>
<rect x="403" y="753" width="1" height="3" fill="#ff0000"/>
<rect x="404" y="753" width="1" height="4" fill="#ff0000"/>
<rect x="405" y="753" width="1" height="4" fill="#ff0000"/>
<rect x="406" y="753" width="1" height="4" fill="#ff0000"/>
<rect x="407" y="753" width="1" height="4" fill="#ff0000"/>
<rect x="408" y="754" width="1" height="4" fill="#ff0000"/>
<rect x="409" y="750" width="1" height="7" fill="#ff0000"/>
<rect x="410" y="749" width="1" height="6" fill="#ff0000"/>
<rect x="411" y="751" width="1" height="4" fill="#ff0000"/>
<rect x="412" y="742" width="1" height="12" fill="#ff0000"/>
<rect x="413" y="743" width="1" height="6" fill="#ff0000"/>
<rect x="414" y="741" width="1" height="6" fill="#ff0000"/>
<rect x="415" y="735" width="1" height="8" fill="#ff0000"/>
<rect x="416" y="739" width="1" height="4" fill="#ff0000"/>
<rect x="417" y="740" width="1" height="3" fill="#ff0000"/>
<rect x="418" y="740" width="1" height="3" fill="#ff0000"/>
<rect x="419" y="741" width="1" height="3" fill="#ff0000"/>
<rect x="420" y="742" width="1" height="3" fill="#ff0000"/>
<rect x="421" y="743" width="1" height="5" fill="#ff0000"/>
<rect x="422" y="745" width="1" height="5" fill="#ff0000"/>
<rect x="423" y="747" width="1" height="5" fill="#ff0000"/>
<rect x="424" y="736" width="1" height="16" fill="#ff0000"/>
<rect x="425" y="749" width="1" height="4" fill="#ff0000"/>
<rect x="426" y="751" width="1" height="3" fill="#ff0000"/>
<rect x="427" y="751" width="1" height="4" fill="#ff0000"/>
<rect x="428" y="752" width="1" height="4" fill="#ff0000"/>
<rect x="429" y="752" width="1" height="4" fill="#ff0000"/>
<rect x="430" y="748" width="1" height="8" fill="#ff0000"/>
<rect x="431" y="748" width="1" height="4" fill="#ff0000"/>
<rect x="432" y="748" width="1" height="5" fill="#ff0000"/>
<rect x="433" y="749" width="1" height="6" fill="#ff0000"/>
<rect x="434" y="755" width="1" height="7" fill="#ff0000"/>
<rect x="435" y="743" width="1" height="17" fill="#ff0000"/>
<rect x="436" y="752" width="1" height="6" fill="#ff0000"/>
<rect x="437" y="752" width="1" height="6" fill="#ff0000"/>
<rect x="438" y="753" width="1" height="5" fill="#ff0000"/>
<rect x="439" y="755" width="1" height="5" fill="#ff0000"/>
<rect x="440" y="755" width="1" height="5" fill="#ff0000"/>
<rect x="441" y="754" width="1" height="6" fill="#ff0000"/>
<rect x="442" y="756" width="1" height="4" fill="#ff0000"/>
<rect x="443" y="756" width="1" height="5" fill="#ff0000"/>
<rect x="444" y="757" width="1" height="4" fill="#ff0000"/>
<rect x="445" y="757" width="1" height="4" fill="#ff0000"/>
<rect x="446" y="757" width="1" height="5" fill="#ff0000"/>
<rect x="447" y="757" width="1" height="4" fill="#ff0000"/>
<rect x="448" y="757" width="1" height="5" fill="#ff0000"/>
<rect x="449" y="758" width="1" height="4" fill="#ff0000"/>
<rect x="450" y="757" width="1" height="5" fill="#ff0000"/>
<rect x="451" y="758" width="1" height="4" fill="#ff0000"/>
<rect x="452" y="757" width="1" height="5" fill="#ff0000"/>
<rect x="453" y="758" width="1" height="4" fill="#ff0000"/>
<rect x="454" y="758" width="1" height="4" fill="#ff0000"/>
<rect x="455" y="758" width="1" height="4" fill="#ff0000"/>
<rect x="456" y="757" width="1" height="5" fill="#ff0000"/>
<rect x="457" y="756" width="1" height="5" fill="#ff0000"/>
<rect x="458" y="756" width="1" height="4" fill="#ff0000"/>
<rect x="459" y="755" width="1" height="4" fill="#ff0000"/>
<rect x="460" y="749" width="1" height="8" fill="#ff0000"/>
<rect x="461" y="751" width="1" height="6" fill="#ff0000"/>
<rect x="462" y="754" width="1" height="4" fill="#ff0000"/>
<rect x="463" y="755" width="1" height="3" fill="#ff0000"/>
<rect x="464" y="755" width="1" height="4" fill="#ff0000"/>
<rect x="465" y="753" width="1" height="5" fill="#ff0000"/>
<rect x="466" y="749" width="1" height="7" fill="#ff0000"/>
<rect x="467" y="755" width="1" height="4" fill="#ff0000"/>
<rect x="468" y="753" width="1" height="5" fill="#ff0000"/>
<rect x="469" y="754" width="1" height="4" fill="#ff0000"/>
<rect x="470" y="753" width="1" height="5" fill="#ff0000"/>
<rect x="471" y="755" width="1" height="4" fill="#ff0000"/>
<rect x="472" y="756" width="1" height="4" fill="#ff0000"/>
<rect x="473" y="757" width="1" height="4" fill="#ff0000"/>
<rect x="474" y="757" width="1" height="4" fill="#ff0000"/>
<rect x="475" y="757" width="1" height="4" fill="#ff0000"/>
<rect x="476" y="758" width="1" height="3" fill="#ff0000"/>
<rect x="477" y="757" width="1" height="4" fill="#ff0000"/>
<rect x="478" y="757" width="1" height="4" fill="#ff0000"/>
<rect x="479" y="755" width="1" height="7" fill="#ff0000"/>
<rect x="480" y="756" width="1" height="6" fill="#ff0000"/>
<rect x="481" y="755" width="1" height="6" fill="#ff0000"/>
<rect x="482" y="756" width="1" height="6" fill="#ff0000"/>
<rect x="483" y="757" width="1" height="5" fill="#ff0000"/>
<rect x="484" y="756" width="1" height="6" fill="#ff0000"/>
<rect x="485" y="757" width="1" height="5" fill="#ff0000"/>
<rect x="486" y="756" width="1" height="6" fill="#ff0000"/>
<rect x="487" y="757" width="1" height="5" fill="#ff0000"/>
<rect x="488" y="758" width="1" height="4" fill="#ff0000"/>
<rect x="489" y="760" width="1" height="2" fill="#ff0000"/>
<rect x="490" y="760" width="1" height="2" fill="#ff0000"/>
<rect x="491" y="760" width="1" height="2" fill="#ff0000"/>
<rect x="492" y="760" width="1" height="2" fill="#ff0000"/>
<rect x="493" y="760" width="1" height="2" fill="#ff0000"/>
<rect x="494" y="760" width="1" height="2" fill="#ff0000"/>
<rect x="495" y="760" width="1" height="1" fill="#ff0000"/>
<rect x="496" y="760" width="1" height="1" fill="#ff0000"/>
<rect x="497" y="760" width="1" height="1" fill="#ff0000"/>
<rect x="499" y="759" width="1" height="2" fill="#ff0000"/>
<rect x="507" y="759" width="1" height="2" fill="#ff0000"/>
<rect x="508" y="759" width="1" height="2" fill="#ff0000"/>
<rect x="509" y="755" width="1" height="6" fill="#ff0000"/>
<rect x="510" y="759" width="1" height="2" fill="#ff0000"/>
<rect x="511" y="759" width="1" height="2" fill="#ff0000"/>
<rect x="512" y="759" width="1" height="2" fill="#ff0000"/>
<rect x="513" y="758" width="1" height="3" fill="#ff0000"/>
<rect x="514" y="758" width="1" height="3" fill="#ff0000"/>
<rect x="515" y="759" width="1" height="2" fill="#ff0000"/>
<rect x="516" y="759" width="1" height="2" fill="#ff0000"/>
<rect x="517" y="758" width="1" height="3" fill="#ff0000"/>
<rect x="518" y="759" width="1" height="2" fill="#ff0000"/>
<rect x="519" y="759" width="1" height="2" fill="#ff0000"/>
<rect x="520" y="754" width="1" height="7" fill="#ff0000"/>
<rect x="521" y="755" width="1" height="6" fill="#ff0000"/>
<rect x="522" y="758" width="1" height="3" fill="#ff0000"/>
<rect x="523" y="759" width="1" height="2" fill="#ff0000"/>
<rect x="524" y="758" width="1" height="3" fill="#ff0000"/>
<rect x="525" y="759" width="1" height="2" fill="#ff0000"/>
<rect x="532" y="758" width="1" height="3" fill="#ff0000"/>
<rect x="545" y="759" width="1" height="2" fill="#ff0000"/>
<rect x="551" y="748" width="1" height="14" fill="#ff0000"/>
<rect x="52" y="728" width="1" height="34" fill="#0000ff"/>
<rect x="58" y="726" width="1" height="36" fill="#0000ff"/>
<rect x="63" y="722" width="1" height="40" fill="#0000ff"/>
<rect x="65" y="739" width="1" height="23" fill="#0000ff"/>
<rect x="69" y="743" width="1" height="19" fill="#0000ff"/>
<rect x="71" y="730" width="1" height="32" fill="#0000ff"/>
<rect x="81" y="731" width="1" height="31" fill="#0000ff"/>
<rect x="87" y="743" width="1" height="19" fill="#0000ff"/>
<rect x="91" y="758" width="1" height="4" fill="#0000ff"/>
<rect x="98" y="758" width="1" height="4" fill="#0000ff"/>
<rect x="106" y="696" width="1" height="66" fill="#0000ff"/>
<rect x="107" y="696" width="1" height="46" fill="#0000ff"/>
<rect x="108" y="726" width="1" height="17" fill="#0000ff"/>
<rect x="109" y="735" width="1" height="21" fill="#0000ff"/>
<rect x="110" y="754" width="1" height="8" fill="#0000ff"/>
<rect x="111" y="754" width="1" height="8" fill="#0000ff"/>
<rect x="121" y="737" width="1" height="25" fill="#0000ff"/>
<rect x="125" y="757" width="1" height="5" fill="#0000ff"/>
<rect x="126" y="752" width="1" height="10" fill="#0000ff"/>
<rect x="127" y="745" width="1" height="17" fill="#0000ff"/>
<rect x="128" y="679" width="1" height="83" fill="#0000ff"/>
<rect x="129" y="667" width="1" height="64" fill="#0000ff"/>
<rect x="130" y="730" width="1" height="32" fill="#0000ff"/>
<rect x="131" y="739" width="1" height="23" fill="#0000ff"/>
<rect x="149" y="751" width="1" height="11" fill="#0000ff"/>
<rect x="155" y="756" width="1" height="6" fill="#0000ff"/>
<rect x="158" y="697" width="1" height="65" fill="#0000ff"/>
<rect x="163" y="722" width="1" height="40" fill="#0000ff"/>
<rect x="166" y="717" width="1" height="45" fill="#0000ff"/>
<rect x="170" y="718" width="1" height="44" fill="#0000ff"/>
<rect x="171" y="737" width="1" height="25" fill="#0000ff"/>
<rect x="172" y="675" width="1" height="87" fill="#0000ff"/>
<rect x="173" y="677" width="1" height="85" fill="#0000ff"/>
<rect x="176" y="753" width="1" height="9" fill="#0000ff"/>
<rect x="178" y="754" width="1" height="8" fill="#0000ff"/>
<rect x="179" y="737" width="1" height="25" fill="#0000ff"/>
<rect x="180" y="703" width="1" height="59" fill="#0000ff"/>
<rect x="181" y="667" width="1" height="95" fill="#0000ff"/>
<rect x="182" y="753" width="1" height="9" fill="#0000ff"/>
<rect x="183" y="755" width="1" height="7" fill="#0000ff"/>
<rect x="184" y="757" width="1" height="5" fill="#0000ff"/>
<rect x="187" y="715" width="1" height="47" fill="#0000ff"/>
<rect x="198" y="743" width="1" height="19" fill="#0000ff"/>
<rect x="209" y="754" width="1" height="8" fill="#0000ff"/>
<rect x="210" y="751" width="1" height="11" fill="#0000ff"/>
<rect x="216" y="741" width="1" height="21" fill="#0000ff"/>
<rect x="224" y="743" width="1" height="19" fill="#0000ff"/>
<rect x="225" y="696" width="1" height="66" fill="#0000ff"/>
<rect x="226" y="696" width="1" height="18" fill="#0000ff"/>
<rect x="227" y="711" width="1" height="44" fill="#0000ff"/>
<rect x="228" y="754" width="1" height="8" fill="#0000ff"/>
<rect x="261" y="750" width="1" height="12" fill="#0000ff"/>
<rect x="262" y="745" width="1" height="17" fill="#0000ff"/>
<rect x="370" y="753" width="1" height="9" fill="#0000ff"/>
</svg></body></html>
